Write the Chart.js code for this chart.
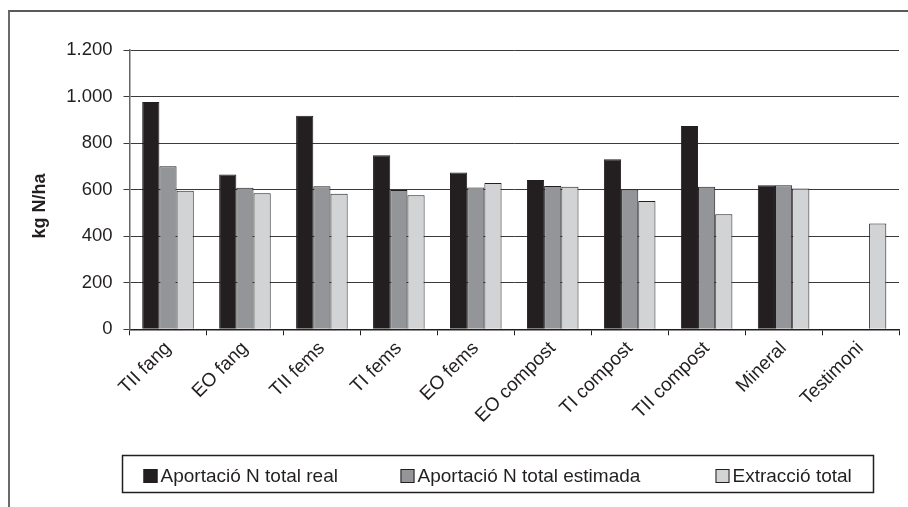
<!DOCTYPE html>
<html>
<head>
<meta charset="utf-8">
<script src="https://cdn.jsdelivr.net/npm/chart.js@4/dist/chart.umd.min.js"></script>
<style>
  html, body { margin: 0; padding: 0; background: #fff; }
  #wrap { position: relative; width: 908px; height: 507px; overflow: hidden; }
  #frame { position: absolute; left: 8px; top: 10px; width: 920px; height: 520px;
           border-top: 2px solid #5a5a5a; border-left: 2px solid #6a6a6a; }
  #chart { position: absolute; left: 0; top: 0; }
</style>
</head>
<body>
<div id="wrap">
  <div id="frame"></div>
  <canvas id="chart" width="908" height="507"></canvas>
</div>
<script>
'use strict';

// data
const categories = ['TII fang', 'EO fang', 'TII fems', 'TI fems', 'EO fems',
  'EO compost', 'TI compost', 'TII compost', 'Mineral', 'Testimoni'];
const aportacioReal = [977, 665, 917, 748, 674, 641, 731, 873, 619, null];
const aportacioEstimada = [701, 608, 615, 598, 609, 616, 601, 612, 619, null];
const extraccioTotal = [595, 584, 582, 576, 629, 612, 551, 494, 605, 455];
const seriesNames = ['Aportació N total real', 'Aportació N total estimada', 'Extracció total'];
const yMin = 0;
const yMax = 1200;
const yStep = 200;
const yTitle = 'kg N/ha';

const ink = '#231f20';
const fills = ['#231f20', '#939598', '#d1d3d4'];
const fontFamily = '"Liberation Sans", Arial, sans-serif';

// legend in a framed box under the plot, plus the y title (sits a bit below centre in the original)
const extras = {
  id: 'extras',
  afterDraw(chart) {
    const ctx = chart.ctx;
    const itemX = [143.5, 400.5, 715.5];
    ctx.save();
    ctx.strokeStyle = ink;
    ctx.lineWidth = 1.5;
    ctx.strokeRect(122.5, 455.5, 751, 37);
    ctx.font = '19px ' + fontFamily;
    ctx.textBaseline = 'middle';
    chart.data.datasets.forEach((ds, i) => {
      ctx.fillStyle = ds.backgroundColor;
      ctx.fillRect(itemX[i], 469, 14, 14);
      ctx.lineWidth = 1;
      ctx.strokeStyle = ink;
      ctx.strokeRect(itemX[i] + 0.5, 469.5, 13, 13);
      ctx.fillStyle = ink;
      ctx.fillText(ds.label, itemX[i] + 17, 476.5);
    });

    ctx.translate(40, 206);
    ctx.rotate(-Math.PI / 2);
    ctx.font = 'bold 18px ' + fontFamily;
    ctx.textAlign = 'center';
    ctx.fillStyle = ink;
    ctx.fillText(yTitle, 0, 0);
    ctx.restore();
  }
};

function renderChart() {
  let data = {
    labels: categories,
    datasets: [aportacioReal, aportacioEstimada, extraccioTotal].map((vals, i) => ({
      label: seriesNames[i],
      data: vals,
      backgroundColor: fills[i],
      borderColor: ink,
      borderWidth: 1,
      categoryPercentage: 0.67,
      barPercentage: 1
    }))
  };

  let options = {
    responsive: false,
    animation: false,
    layout: { padding: { top: 50, right: 9, bottom: 0, left: 0 } },
    plugins: {
      legend: { display: false },
      tooltip: { enabled: false }
    },
    scales: {
      x: {
        offset: true,
        grid: { offset: true, drawOnChartArea: false, drawTicks: true, tickLength: 6, color: ink, lineWidth: 1 },
        border: { display: true, color: ink, width: 1.5 },
        ticks: {
          color: ink,
          font: { family: fontFamily, size: 19 },
          minRotation: 45,
          maxRotation: 45,
          padding: 2,
          autoSkip: false
        },
        afterFit(scale) { scale.height = 177.7; }
      },
      y: {
        min: yMin,
        max: yMax,
        ticks: {
          stepSize: yStep,
          color: ink,
          padding: 11,
          font: { family: fontFamily, size: 18.5 },
          callback: v => v.toLocaleString('de-DE')
        },
        grid: { color: '#3a3a3a', lineWidth: 1, tickLength: 6 },
        border: { display: true, color: '#666', width: 1.5 },
        afterFit(scale) { scale.width = 129.5; }
      }
    }
  };

  let ctx = document.getElementById('chart').getContext('2d');
  new Chart(ctx, {
    type: 'bar',
    data: data,
    options: options,
    plugins: [extras]
  });
}

renderChart();
</script>
</body>
</html>
